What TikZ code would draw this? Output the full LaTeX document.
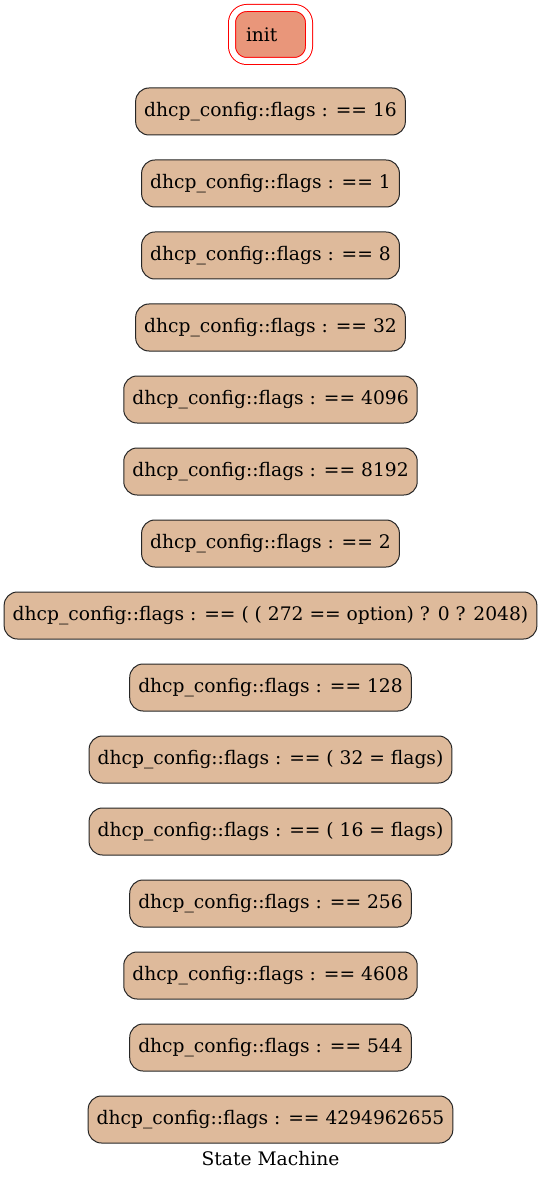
\documentclass[tikz,border=0pt]{standalone}
\usepackage{fontspec}
\setmainfont{DejaVu Serif}
\usetikzlibrary{positioning}
\definecolor{statetan}{RGB}{222,186,155}
\definecolor{initsalmon}{RGB}{233,150,122}

\begin{document}
\begin{tikzpicture}[x=0.75pt, y=-0.75pt, node distance=54pt,
    state/.style={rectangle, draw=black!85, fill=statetan, line width=0.75pt, rounded corners=10pt, minimum height=35.25pt, inner xsep=6.4pt, font=\fontsize{14}{16}\selectfont},
    initstate/.style={rectangle, draw=red, double=white, double distance=4.5pt, fill=initsalmon, line width=0.75pt, rounded corners=11pt, minimum width=57.75pt, minimum height=39.75pt, inner xsep=10.5pt, text width=36.75pt, align=left, font=\fontsize{14}{16}\selectfont},
    title/.style={font=\fontsize{14}{16}\selectfont}]

    \useasboundingbox (0,0) rectangle (541,1180);

    \node[initstate] (init) at (270.5,34.5) {init};
    \node[state, below of=init, node distance=57.75pt] (cond16) {dhcp\_config::flags : == 16};
    \node[state, below of=cond16] (cond1) {dhcp\_config::flags : == 1};
    \node[state, below of=cond1] (cond8) {dhcp\_config::flags : == 8};
    \node[state, below of=cond8] (cond32) {dhcp\_config::flags : == 32};
    \node[state, below of=cond32] (cond4096) {dhcp\_config::flags : == 4096};
    \node[state, below of=cond4096] (cond8192) {dhcp\_config::flags : == 8192};
    \node[state, below of=cond8192] (cond2) {dhcp\_config::flags : == 2};
    \node[state, below of=cond2] (condopt) {dhcp\_config::flags : == ( ( 272 == option) ? 0 ? 2048)};
    \node[state, below of=condopt] (cond128) {dhcp\_config::flags : == 128};
    \node[state, below of=cond128] (cond32f) {dhcp\_config::flags : == ( 32 = flags)};
    \node[state, below of=cond32f] (cond16f) {dhcp\_config::flags : == ( 16 = flags)};
    \node[state, below of=cond16f] (cond256) {dhcp\_config::flags : == 256};
    \node[state, below of=cond256] (cond4608) {dhcp\_config::flags : == 4608};
    \node[state, below of=cond4608] (cond544) {dhcp\_config::flags : == 544};
    \node[state, below of=cond544] (condmax) {dhcp\_config::flags : == 4294962655};
    \node[title, below of=condmax, node distance=29.25pt] (machine) {State Machine};
\end{tikzpicture}
\end{document}
